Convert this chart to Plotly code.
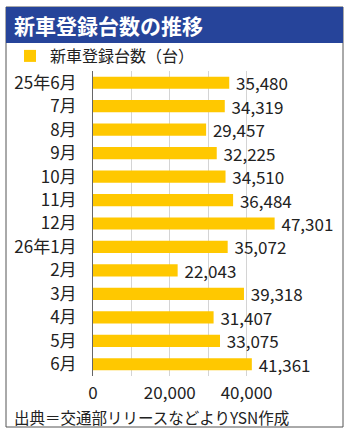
import plotly.graph_objects as go

months = ["25年6月", "7月", "8月", "9月", "10月", "11月", "12月",
          "26年1月", "2月", "3月", "4月", "5月", "6月"]
registrations = [35480, 34319, 29457, 32225, 34510, 36484, 47301,
                 35072, 22043, 39318, 31407, 33075, 41361]
series_name = "新車登録台数（台）"
title_text = "新車登録台数の推移"
source_text = "出典＝交通部リリースなどよりYSN作成"
x_tickvals = [0, 20000, 40000]
x_ticktext = ["0", "20,000", "40,000"]

W, H = 350, 435
L, R, T, B = 93, 65, 71, 59
PW, PH = W - L - R, H - T - B

def px(x):
    return (x - L) / PW

def py(y):
    return (H - B - y) / PH

FONT = "Noto Sans CJK JP"
YELLOW = "#FFC800"
NAVY = "#26449A"
TXT = "#222"

fig = go.Figure()
fig.add_trace(go.Bar(
    y=months, x=registrations, orientation="h", name=series_name,
    marker=dict(color=YELLOW, line=dict(width=0)),
    width=0.52,
    texttemplate=" %{x:,}", textposition="outside",
    textfont=dict(size=17, color=TXT, family=FONT),
    cliponaxis=False, constraintext="none",
))

fig.update_layout(
    width=W, height=H,
    margin=dict(l=L, r=R, t=T, b=B, autoexpand=False),
    paper_bgcolor="white", plot_bgcolor="white",
    font=dict(family=FONT, color=TXT, size=16),
    showlegend=True,
    legend=dict(x=px(10), y=py(56), xanchor="left", yanchor="middle",
                bgcolor="rgba(0,0,0,0)", font=dict(size=16, family=FONT, color=TXT),
                itemsizing="constant"),
    xaxis=dict(range=[0, 50000], tickvals=x_tickvals, ticktext=x_ticktext,
               showgrid=False, zeroline=False, ticks="", ticklabelstandoff=5,
               tickfont=dict(size=17, family=FONT, color=TXT),
               minor=dict(dtick=10000, tick0=0, showgrid=True, gridcolor="#d4d4d4", gridwidth=1),
               fixedrange=True),
    yaxis=dict(autorange="reversed", showline=True, linecolor="#666", linewidth=1,
               ticks="", showgrid=False, ticklabelstandoff=12,
               tickfont=dict(size=17, family=FONT, color=TXT), fixedrange=True),
    shapes=[
        dict(type="rect", xref="paper", yref="paper",
             x0=px(6), x1=px(343), y0=py(427), y1=py(7),
             line=dict(color="#555", width=1), fillcolor="rgba(0,0,0,0)", layer="below"),
        dict(type="rect", xref="paper", yref="paper",
             x0=px(6), x1=px(343), y0=py(43), y1=py(7),
             line=dict(width=0), fillcolor=NAVY, layer="above"),
    ],
    annotations=[
        dict(text=f"<b>{title_text}</b>", xref="paper", yref="paper",
             x=px(12), y=py(25), xanchor="left", yanchor="middle", showarrow=False,
             font=dict(size=21, color="white", family=FONT)),
        dict(text=source_text, xref="paper", yref="paper",
             x=px(12), y=py(417), xanchor="left", yanchor="middle", showarrow=False,
             font=dict(size=15.5, color=TXT, family=FONT)),
    ],
)

fig.write_html("out.html")
